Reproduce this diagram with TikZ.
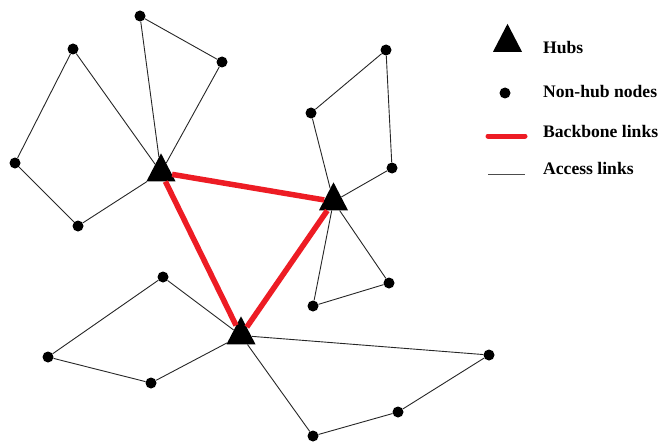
\documentclass[tikz,border=0pt]{standalone}
\usepackage{fontspec}
\setmainfont{Liberation Serif}
\usetikzlibrary{shapes.geometric,positioning}
\definecolor{linkred}{RGB}{237,28,36}
\begin{document}
\begin{tikzpicture}[x=1pt, y=-1pt,
  hub/.style={isosceles triangle, shape border rotate=90, isosceles triangle stretches, minimum width=29pt, minimum height=28pt, inner sep=0pt, fill=black},
  nonhub/.style={circle, fill=black, minimum size=11pt, inner sep=0pt},
  access/.style={draw=black!85, line width=0.9pt},
  backbone/.style={draw=linkred, line width=5.5pt},
  legtext/.style={font=\fontsize{17.6}{20}\selectfont\bfseries, anchor=base west, inner sep=0pt},
]
  \useasboundingbox (0,0) rectangle (662,444);
  \node[hub] (h1) at (161,172.5) {};
  \node[hub] (h2) at (333.5,201.5) {};
  \node[hub] (h3) at (241,335.5) {};
  \node[nonhub] (a1) at (140,16) {};
  \node[nonhub] (a2) at (222,62) {};
  \node[nonhub] (a3) at (73,49) {};
  \node[nonhub] (a4) at (15,163) {};
  \node[nonhub] (a5) at (78,226) {};
  \node[nonhub] (b1) at (311,113) {};
  \node[nonhub] (b2) at (386,50) {};
  \node[nonhub] (b3) at (392,168) {};
  \node[nonhub] (b4) at (389,283) {};
  \node[nonhub] (b5) at (313,306) {};
  \node[nonhub] (c1) at (163,277) {};
  \node[nonhub] (c2) at (48,357) {};
  \node[nonhub] (c3) at (151,383) {};
  \node[nonhub] (c4) at (489,355) {};
  \node[nonhub] (c5) at (398,412) {};
  \node[nonhub] (c6) at (313,436) {};
  \draw[access] (h1) -- (a1) -- (a2) -- (h1);
  \draw[access] (h1) -- (a3) -- (a4) -- (a5) -- (h1);
  \draw[access] (h2) -- (b1) -- (b2) -- (b3) -- (h2);
  \draw[access] (h2) -- (b4) -- (b5) -- (h2);
  \draw[access] (h3) -- (c1) -- (c2) -- (c3) -- (h3);
  \draw[access] (h3) -- (c4) -- (c5) -- (c6) -- (h3);
  \draw[backbone] (h1) -- (h2);
  \draw[backbone] (h1) -- (h3);
  \draw[backbone] (h2) -- (h3);
  \node[hub] (leghub) at (507.5,43) {};
  \node[nonhub] (legdot) at (505,93) {};
  \coordinate (bbl) at (488,136);
  \coordinate (bbr) at (525,136);
  \coordinate (acl) at (488,174);
  \coordinate (acr) at (525,174);
  \draw[backbone, line cap=round, line width=5pt] (bbl) -- (bbr);
  \draw[access, draw=black!70] (acl) -- (acr);
  \node[legtext] (t1) at (543,54) {Hubs};
  \node[legtext] (t2) at (543,98) {Non-hub nodes};
  \node[legtext] (t3) at (543,137) {Backbone links};
  \node[legtext] (t4) at (543,175) {Access links};
\end{tikzpicture}
\end{document}
